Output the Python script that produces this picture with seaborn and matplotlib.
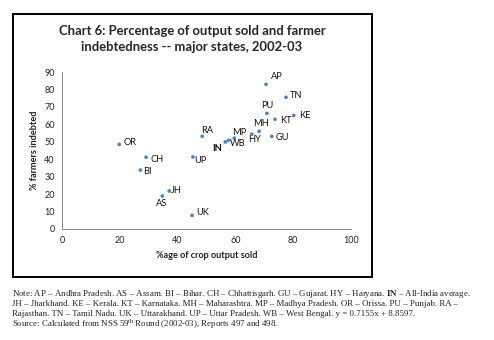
import matplotlib
matplotlib.use("Agg")
import matplotlib.pyplot as plt
import seaborn as sns
import pandas as pd
from matplotlib.patches import Rectangle

states = ["OR", "CH", "BI", "JH", "AS", "UK", "UP", "RA", "IN", "WB", "MP",
          "HY", "MH", "GU", "KT", "KE", "PU", "TN", "AP"]
output_sold = [19.8, 29.1, 27.1, 37.1, 34.7, 45.0, 45.3, 48.5, 56.5, 57.6, 59.6,
               65.7, 68.2, 72.6, 73.7, 80.2, 70.9, 77.5, 70.6]
indebted = [48.5, 41.1, 33.8, 21.8, 18.9, 7.8, 41.3, 53.1, 49.9, 50.8, 52.1,
            54.4, 56.0, 53.1, 62.9, 65.1, 66.3, 75.5, 82.9]
# label offsets in pixels (dx, dy) and horizontal alignment
label_offsets = {
    "OR": (4, 2, "left"), "CH": (4, -2, "left"), "BI": (3, -1.5, "left"),
    "JH": (2, 0, "left"), "AS": (-1, -7, "center"), "UK": (4, 2.5, "left"),
    "UP": (1, -4, "left"), "RA": (-1, 5.5, "left"), "IN": (-3, -7, "right"),
    "WB": (1, -3, "left"), "MP": (-2, 6, "left"), "HY": (-4, -5, "left"),
    "MH": (-6, 8, "left"), "GU": (4, -1, "left"), "KT": (5, -1, "left"),
    "KE": (5, -0.5, "left"), "PU": (-6, 8, "left"), "TN": (4, 2, "left"),
    "AP": (5, 8, "left"),
}
x_ticks = [0, 20, 40, 60, 80, 100]
y_ticks = [0, 10, 20, 30, 40, 50, 60, 70, 80, 90]

sns.set_style("white")
plt.rcParams["font.family"] = ["Lato", "DejaVu Sans"]
plt.rcParams["mathtext.fontset"] = "custom"
plt.rcParams["mathtext.rm"] = "Liberation Serif"
plt.rcParams["mathtext.bf"] = "Liberation Serif:bold"

df = pd.DataFrame({"state": states, "x": output_sold, "y": indebted})

fig = plt.figure(figsize=(4.94, 3.40), dpi=100)
W, H = 494, 340
ax = fig.add_axes([62 / W, 1 - 229 / H, (351 - 62) / W, (229 - 72) / H])

sns.scatterplot(data=df, x="x", y="y", ax=ax, color="#4F81BD", s=7,
                edgecolor="none", zorder=3)

for s, xv, yv in zip(states, output_sold, indebted):
    dx, dy, ha = label_offsets[s]
    ax.annotate(s, (xv, yv), xytext=(dx, dy), textcoords="offset pixels",
                ha=ha, va="center", fontsize=6.7,
                fontweight="bold" if s == "IN" else "normal",
                color="#111111")

ax.set_xlim(0, 100)
ax.set_ylim(0, 90)
ax.set_xticks(x_ticks)
ax.set_yticks(y_ticks)
ax.tick_params(axis="both", labelsize=6.5, colors="#868686", labelcolor="#222222",
               length=2.5, width=0.6, direction="inout", pad=4)
for sp in ["top", "right"]:
    ax.spines[sp].set_visible(False)
for sp in ["left", "bottom"]:
    ax.spines[sp].set_color("#868686")
    ax.spines[sp].set_linewidth(0.7)
ax.set_xlabel("%age of crop output sold", fontsize=6.6, fontweight="bold",
              color="#222222", labelpad=4)
ax.set_ylabel("% farmers indebted", fontsize=6.6, fontweight="bold",
              color="#222222", labelpad=4)

# chart border
fig.patches.append(Rectangle((12.5 / W, 1 - 277 / H), (372 - 12.5) / W, (277 - 13.5) / H,
                             transform=fig.transFigure, fill=False,
                             edgecolor="black", linewidth=1.4, zorder=0))

fig.text(192 / W, 1 - 31 / H, "Chart 6: Percentage of output sold and farmer",
         ha="center", va="center", fontsize=9.4, fontweight="bold")
fig.text(192 / W, 1 - 47 / H, "indebtedness -- major states, 2002-03",
         ha="center", va="center", fontsize=9.4, fontweight="bold")

serif = ["Liberation Serif", "DejaVu Serif"]
fs = 6.4
x0 = 12 / W
notes = [
    "Note: AP \u2013 Andhra Pradesh. AS \u2013 Assam. BI \u2013 Bihar. CH \u2013 Chhattisgarh. "
    "GU \u2013 Gujarat. HY \u2013 Haryana. $\\mathbf{IN}$ \u2013 All-India average.",
    "JH \u2013 Jharkhand. KE \u2013 Kerala. KT \u2013 Karnataka. MH \u2013 Maharashtra. "
    "MP \u2013 Madhya Pradesh. OR \u2013 Orissa. PU \u2013 Punjab. RA \u2013",
    "Rajasthan. TN \u2013 Tamil Nadu. UK \u2013 Uttarakhand. UP \u2013 Uttar Pradesh. "
    "WB \u2013 West Bengal. y = 0.7155x + 8.8597.",
    "Source: Calculated from NSS 59$^{\\rm th}$ Round (2002-03), Reports 497 and 498.",
]
for i, t in enumerate(notes):
    fig.text(x0, 1 - (294 + 10 * i) / H, t, ha="left", va="center",
             fontsize=fs, family=serif, color="#222222")

fig.savefig("out.png", dpi=100)
